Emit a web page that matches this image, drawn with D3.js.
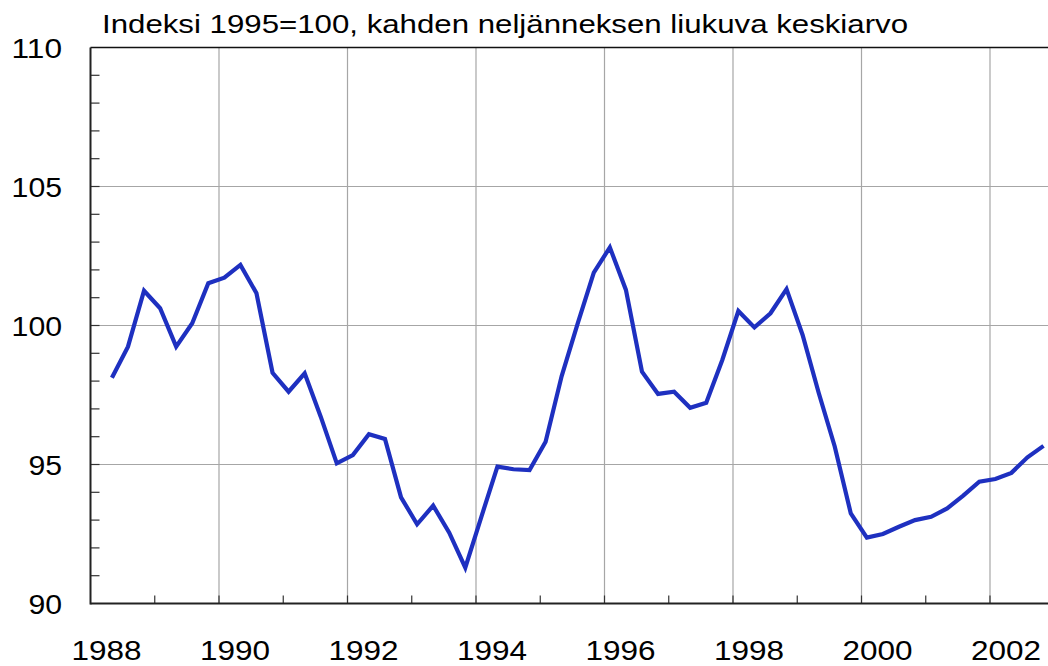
<!DOCTYPE html>
<html>
<head>
<meta charset="utf-8">
<script src="https://cdn.jsdelivr.net/npm/d3@7"></script>
<style>
  html, body { margin: 0; padding: 0; background: #fff; overflow: hidden; }
  text { font-family: "Liberation Sans", Arial, sans-serif; fill: #000; }
</style>
</head>
<body>
<div id="chart"></div>
<script>
// quarterly index, 2-quarter moving average, 1988Q2 .. 2002Q4
const startYear = 1988
const startQuarter = 2
const values = [
    98.12, 99.24, 101.25, 100.62,
    99.24, 100.08, 101.52, 101.72,
    102.18, 101.16, 98.30, 97.62,
    98.28, 96.72, 95.04, 95.34,
    96.09, 95.92, 93.82, 92.85,
    93.52, 92.55, 91.29, 93.12,
    94.92, 94.83, 94.80, 95.82,
    98.18, 100.08, 101.90, 102.81,
    101.28, 98.34, 97.54, 97.62,
    97.04, 97.22, 98.76, 100.52,
    99.93, 100.44, 101.31, 99.66,
    97.58, 95.65, 93.24, 92.37,
    92.50, 92.76, 93.00, 93.12,
    93.42, 93.88, 94.38, 94.48,
    94.70, 95.26, 95.67
]
const xTickLabels = ["1988", "1990", "1992", "1994", "1996", "1998", "2000", "2002"]
const yTickLabels = [90, 95, 100, 105, 110]
const title = "Indeksi 1995=100, kahden neljänneksen liukuva keskiarvo"

;(function () {
    // each point sits at the middle month of its quarter
    const series = values.map((v, i) => {
        const q = startQuarter - 1 + i
        return { t: startYear + Math.floor(q / 4) + (q % 4) * 0.25 + 1 / 12, v: v }
    })

    const width = 1048
    const height = 666
    const padLeft = 90.5, padTop = 47.5, axisY = 603.5
    const yearPx = 64.25

    const svg = d3.select("#chart")
        .append("svg")
        .attr("width", width)
        .attr("height", height)

    const xScale = d3.scaleLinear()
        .domain([1988, 2003])
        .range([padLeft, padLeft + 15 * yearPx])

    const yScale = d3.scaleLinear()
        .domain([90, 110])
        .range([axisY, padTop])

    // grid
    svg.append("g")
        .selectAll("line")
        .data(xTickLabels.slice(1).map(Number))
        .enter()
        .append("line")
        .attr("x1", d => xScale(d)).attr("x2", d => xScale(d))
        .attr("y1", padTop).attr("y2", axisY)
        .attr("stroke", "#a6a6a6")
        .attr("stroke-width", 1.2)

    svg.append("g")
        .selectAll("line")
        .data(yTickLabels.slice(1, -1))
        .enter()
        .append("line")
        .attr("x1", padLeft).attr("x2", width)
        .attr("y1", d => yScale(d)).attr("y2", d => yScale(d))
        .attr("stroke", "#a6a6a6")
        .attr("stroke-width", 1.2)

    // minor ticks
    svg.append("g")
        .selectAll("line")
        .data(d3.range(91, 110))
        .enter()
        .append("line")
        .attr("x1", padLeft).attr("x2", padLeft + 9)
        .attr("y1", d => yScale(d)).attr("y2", d => yScale(d))
        .attr("stroke", "#333")
        .attr("stroke-width", 1.2)

    svg.append("g")
        .selectAll("line")
        .data(d3.range(1989, 2003))
        .enter()
        .append("line")
        .attr("x1", d => xScale(d)).attr("x2", d => xScale(d))
        .attr("y1", axisY - 8).attr("y2", axisY)
        .attr("stroke", "#333")
        .attr("stroke-width", 1.2)

    // frame
    svg.append("line")
        .attr("x1", padLeft).attr("x2", width)
        .attr("y1", padTop).attr("y2", padTop)
        .attr("stroke", "#111").attr("stroke-width", 1.5)
    svg.append("line")
        .attr("x1", padLeft).attr("x2", width)
        .attr("y1", axisY).attr("y2", axisY)
        .attr("stroke", "#222").attr("stroke-width", 2)
    svg.append("line")
        .attr("x1", padLeft).attr("x2", padLeft)
        .attr("y1", padTop).attr("y2", axisY + 1)
        .attr("stroke", "#222").attr("stroke-width", 2)

    // labels (source font is a little wider than Arial, so stretch)
    svg.append("g")
        .selectAll("text")
        .data(yTickLabels)
        .enter()
        .append("text")
        .attr("x", 62)
        .attr("y", d => yScale(d) + 10)
        .attr("text-anchor", "end")
        .attr("textLength", d => String(d).length * 16.8)
        .attr("lengthAdjust", "spacingAndGlyphs")
        .style("font-size", "28px")
        .text(d => d)

    svg.append("g")
        .selectAll("text")
        .data(xTickLabels)
        .enter()
        .append("text")
        .attr("x", d => xScale(+d + 0.25))
        .attr("y", 660)
        .attr("text-anchor", "middle")
        .attr("textLength", 70)
        .attr("lengthAdjust", "spacingAndGlyphs")
        .style("font-size", "28px")
        .text(d => d)

    svg.append("text")
        .attr("x", 102)
        .attr("y", 33)
        .attr("textLength", 806)
        .attr("lengthAdjust", "spacingAndGlyphs")
        .style("font-size", "26px")
        .text(title)

    // series
    const line = d3.line()
        .x(d => xScale(d.t))
        .y(d => yScale(d.v))

    svg.append("path")
        .datum(series)
        .attr("d", line)
        .attr("fill", "none")
        .attr("stroke", "#1e30c0")
        .attr("stroke-width", 4.2)
        .attr("stroke-linejoin", "miter")
})()
</script>
</body>
</html>
